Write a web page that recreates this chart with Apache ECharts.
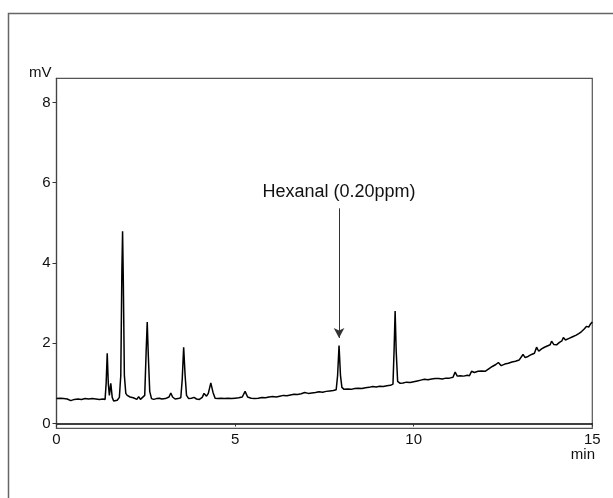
<!DOCTYPE html>
<html><head><meta charset="utf-8">
<script src="https://cdn.jsdelivr.net/npm/echarts@6/dist/echarts.min.js"></script>
<style>html,body{margin:0;padding:0;background:#fff}#c{width:613px;height:498px}</style>
</head><body><div id="c"></div>
<script>
const times = [0.00,0.10,0.20,0.30,0.40,0.50,0.60,0.70,0.80,0.90,1.00,1.10,1.20,1.30,1.36,1.39,1.42,1.45,1.48,1.52,1.56,1.60,1.65,1.70,1.76,1.80,1.83,1.85,1.87,1.90,1.94,1.98,2.02,2.06,2.10,2.15,2.20,2.25,2.30,2.35,2.40,2.47,2.51,2.54,2.57,2.61,2.66,2.72,2.80,2.88,2.95,3.05,3.15,3.20,3.25,3.32,3.40,3.48,3.52,3.56,3.60,3.64,3.70,3.78,3.85,3.92,4.00,4.08,4.13,4.16,4.20,4.25,4.32,4.38,4.44,4.52,4.60,4.70,4.80,4.90,5.00,5.10,5.20,5.28,5.35,5.45,5.55,5.65,5.75,5.85,5.95,6.05,6.15,6.25,6.35,6.45,6.55,6.65,6.75,6.85,6.95,7.05,7.15,7.25,7.35,7.45,7.55,7.65,7.75,7.83,7.87,7.91,7.95,7.99,8.05,8.15,8.25,8.35,8.45,8.55,8.65,8.75,8.85,8.95,9.05,9.15,9.25,9.35,9.42,9.45,9.48,9.51,9.55,9.62,9.70,9.80,9.90,10.00,10.10,10.20,10.30,10.40,10.50,10.60,10.70,10.80,10.90,11.00,11.10,11.16,11.22,11.30,11.40,11.50,11.56,11.62,11.70,11.80,11.90,12.00,12.10,12.20,12.30,12.37,12.45,12.55,12.65,12.75,12.85,12.95,13.00,13.06,13.12,13.20,13.30,13.38,13.44,13.50,13.58,13.66,13.74,13.82,13.86,13.92,14.00,14.08,14.15,14.19,14.25,14.35,14.45,14.55,14.62,14.70,14.78,14.84,14.90,14.95,15.00];
const signal = [0.62,0.63,0.62,0.61,0.57,0.60,0.61,0.60,0.62,0.61,0.62,0.61,0.60,0.61,0.60,1.00,1.75,1.00,0.70,1.00,0.65,0.56,0.54,0.58,0.65,1.20,3.80,4.79,3.60,1.20,0.75,0.70,0.72,0.66,0.70,0.64,0.62,0.60,0.67,0.60,0.62,0.70,1.80,2.53,1.70,0.80,0.62,0.60,0.62,0.63,0.61,0.62,0.66,0.76,0.66,0.61,0.62,0.64,1.10,1.90,1.20,0.70,0.62,0.63,0.65,0.61,0.60,0.65,0.75,0.79,0.68,0.75,1.01,0.78,0.63,0.62,0.63,0.62,0.63,0.62,0.63,0.64,0.66,0.80,0.66,0.63,0.62,0.63,0.65,0.64,0.66,0.67,0.66,0.68,0.70,0.69,0.71,0.73,0.72,0.74,0.77,0.75,0.76,0.77,0.79,0.78,0.80,0.81,0.82,0.84,1.20,1.94,1.20,0.90,0.85,0.86,0.85,0.87,0.88,0.87,0.89,0.90,0.92,0.91,0.93,0.92,0.94,0.95,0.98,1.80,2.80,1.80,1.05,1.00,1.01,1.03,1.02,1.04,1.06,1.08,1.10,1.09,1.11,1.12,1.12,1.11,1.13,1.13,1.15,1.28,1.18,1.19,1.18,1.20,1.19,1.30,1.27,1.30,1.31,1.30,1.36,1.42,1.47,1.52,1.44,1.48,1.50,1.53,1.55,1.58,1.60,1.72,1.64,1.67,1.72,1.75,1.90,1.80,1.86,1.90,1.93,1.96,2.05,1.97,1.96,2.02,2.06,2.14,2.08,2.12,2.16,2.20,2.24,2.29,2.36,2.42,2.40,2.48,2.53];
const yTicks = [0, 2, 4, 6, 8];
const xUnit = 'min';
const yUnit = 'mV';
const annotText = 'Hexanal (0.20ppm)';
const annotTime = 7.91;
const arrowFrom = 5.36;
const arrowTo = 2.13;

const chart = echarts.init(document.getElementById('c'), null, {renderer: 'canvas'});
const FONT = 'Liberation Sans, Arial, sans-serif';
chart.setOption({
  animation: false,
  backgroundColor: '#fff',
  graphic: [{
    type: 'rect', silent: true,
    shape: {x: 8.5, y: 13.5, width: 800, height: 700},
    style: {fill: 'none', stroke: '#666', lineWidth: 1.5}
  }, {
    type: 'text', silent: true, right: 18, top: 447,
    style: {text: xUnit, fill: '#111', fontSize: 15, fontFamily: FONT}
  }],
  grid: {left: 56.5, right: 20.7, top: 78.3, bottom: 69.7, show: true, borderColor: '#555', borderWidth: 1.2, containLabel: false, outerBoundsMode: 'none'},
  xAxis: {
    type: 'value', min: 0, max: 15, interval: 5,
    axisLine: {show: true, lineStyle: {color: '#000', width: 1.5}},
    axisTick: {show: true, length: 3, lineStyle: {color: '#333'}},
    axisLabel: {color: '#111', fontSize: 15, fontFamily: FONT, margin: 4},
    splitLine: {show: false}
  },
  yAxis: {
    type: 'value', min: -0.12, max: 8.6,
    name: yUnit, nameLocation: 'end', nameGap: -2,
    nameTextStyle: {color: '#111', fontSize: 15, fontFamily: FONT, align: 'right', padding: [0, 5, 0, 0]},
    axisLine: {show: true, lineStyle: {color: '#444', width: 1.2}},
    axisTick: {show: true, length: 4, customValues: yTicks, lineStyle: {color: '#333'}},
    axisLabel: {color: '#111', fontSize: 15, fontFamily: FONT, margin: 6, customValues: yTicks},
    splitLine: {show: false}
  },
  series: [{
    type: 'line', showSymbol: false, symbol: 'none',
    data: times.map((t, i) => [t, signal[i]]),
    lineStyle: {color: '#000', width: 1.5},
    markLine: {
      silent: true, animation: false,
      symbol: ['none', 'arrow'], symbolSize: [8, 10],
      lineStyle: {color: '#333', width: 1, type: 'solid'},
      label: {show: true, position: 'start', formatter: annotText, color: '#111', fontSize: 18, fontFamily: FONT, distance: 7},
      data: [[{coord: [annotTime, arrowFrom]}, {coord: [annotTime, arrowTo]}]]
    }
  }]
});
</script></body></html>
